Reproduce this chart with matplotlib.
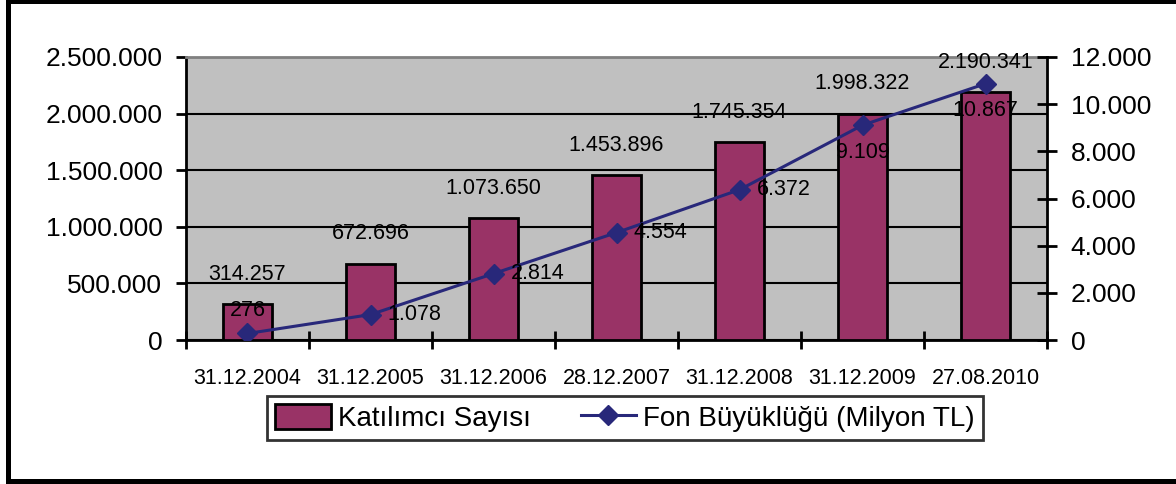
import numpy as np
from matplotlib import pyplot as plt
import matplotlib.patches as mpatches
from matplotlib.lines import Line2D
from matplotlib.ticker import FuncFormatter, FixedLocator

# data
dates = ["31.12.2004", "31.12.2005", "31.12.2006", "28.12.2007",
         "31.12.2008", "31.12.2009", "27.08.2010"]
participants = [314257, 672696, 1073650, 1453896, 1745354, 1998322, 2190341]
fund_size = [276, 1078, 2814, 4554, 6372, 9109, 10867]

# where each fund-size label sits relative to its marker
fund_label_side = ["above", "right", "right", "right", "right", "below", "below"]

plt.rcParams['font.family'] = ['Liberation Sans', 'DejaVu Sans']

BAR_COLOR = '#993366'
LINE_COLOR = '#28287A'
TICK_FS = 19
XTICK_FS = 15.5
LABEL_FS = 15.5
LEGEND_FS = 20


def dotted(v, pos=None):
    return f"{int(round(v)):,}".replace(",", ".")


fig = plt.figure(figsize=(11.76, 4.84), dpi=100)
ax = fig.add_axes([186 / 1176, 1 - 340 / 484, (1047 - 186) / 1176, (340 - 57) / 484])
ax2 = ax.twinx()

x = np.arange(len(dates))
ax.set_facecolor('#C0C0C0')
ax.bar(x, participants, width=0.4, color=BAR_COLOR, edgecolor='black', linewidth=2, zorder=3)
ax.set_ylim(0, 2500000)
ax.set_xlim(-0.5, len(dates) - 0.5)
ax.set_yticks(np.arange(0, 2500001, 500000))
ax.yaxis.set_major_formatter(FuncFormatter(dotted))
ax.grid(axis='y', color='black', linewidth=1.5, zorder=1)
ax.set_axisbelow(True)

# category boundary ticks, labels centred
ax.xaxis.set_major_locator(FixedLocator(np.arange(-0.5, len(dates), 1.0)))
ax.xaxis.set_major_formatter(FuncFormatter(lambda v, p: ""))
ax.xaxis.set_minor_locator(FixedLocator(x))
ax.set_xticklabels(dates, minor=True)
ax.tick_params(axis='x', which='major', direction='inout', length=13, width=2)
ax.tick_params(axis='x', which='minor', length=0, labelsize=XTICK_FS, pad=20)
ax.tick_params(axis='y', direction='out', length=7, width=2, labelsize=TICK_FS, pad=10)

for s in ['left', 'bottom']:
    ax.spines[s].set_linewidth(2)
ax.spines['top'].set_color('#808080')
ax.spines['top'].set_linewidth(2)
ax.spines['right'].set_visible(False)

for xi, v in zip(x, participants):
    ax.annotate(dotted(v), (xi, v), xytext=(0, 30), textcoords='offset pixels',
                ha='center', va='center', fontsize=LABEL_FS, zorder=6)

ax2.plot(x, fund_size, color=LINE_COLOR, linewidth=2.2, marker='D', markersize=10,
         zorder=5)
ax2.set_ylim(0, 12000)
ax2.set_yticks(np.arange(0, 12001, 2000))
ax2.yaxis.set_major_formatter(FuncFormatter(dotted))
ax2.tick_params(axis='y', direction='inout', length=14, width=2, labelsize=TICK_FS, pad=10)
ax2.spines['right'].set_linewidth(2)
for s in ['left', 'bottom', 'top']:
    ax2.spines[s].set_visible(False)

offsets = {"above": ((0, 23), 'center'), "right": ((17, 0), 'left'), "below": ((0, -27), 'center')}
for xi, v, side in zip(x, fund_size, fund_label_side):
    off, ha = offsets[side]
    ax2.annotate(dotted(v), (xi, v), xytext=off, textcoords='offset pixels',
                 ha=ha, va='center', fontsize=LABEL_FS, zorder=6)

handles = [mpatches.Patch(facecolor=BAR_COLOR, edgecolor='black', linewidth=2,
                          label='Katılımcı Sayısı'),
           Line2D([], [], color=LINE_COLOR, linewidth=2.2, marker='D', markersize=10,
                  label='Fon Büyüklüğü (Milyon TL)')]
leg = fig.legend(handles=handles, loc='center', bbox_to_anchor=(625 / 1176, 1 - 418 / 484),
                 ncol=2, fontsize=LEGEND_FS, frameon=True, fancybox=False, edgecolor='black',
                 handlelength=2.0, handleheight=1.0, handletextpad=0.25,
                 columnspacing=1.8, borderpad=0.3, borderaxespad=0)
leg.get_frame().set_linewidth(2)

# outer frame of the picture
for (x0, y0, w, h) in [(6 / 1176, 0, 5 / 1176, 1),
                       (6 / 1176, 1 - 4 / 484, 1, 4 / 484),
                       (6 / 1176, 0, 1, 5 / 484)]:
    fig.add_artist(mpatches.Rectangle((x0, y0), w, h, transform=fig.transFigure,
                                      facecolor='black', edgecolor='none'))

fig.savefig('out.png', dpi=100)
